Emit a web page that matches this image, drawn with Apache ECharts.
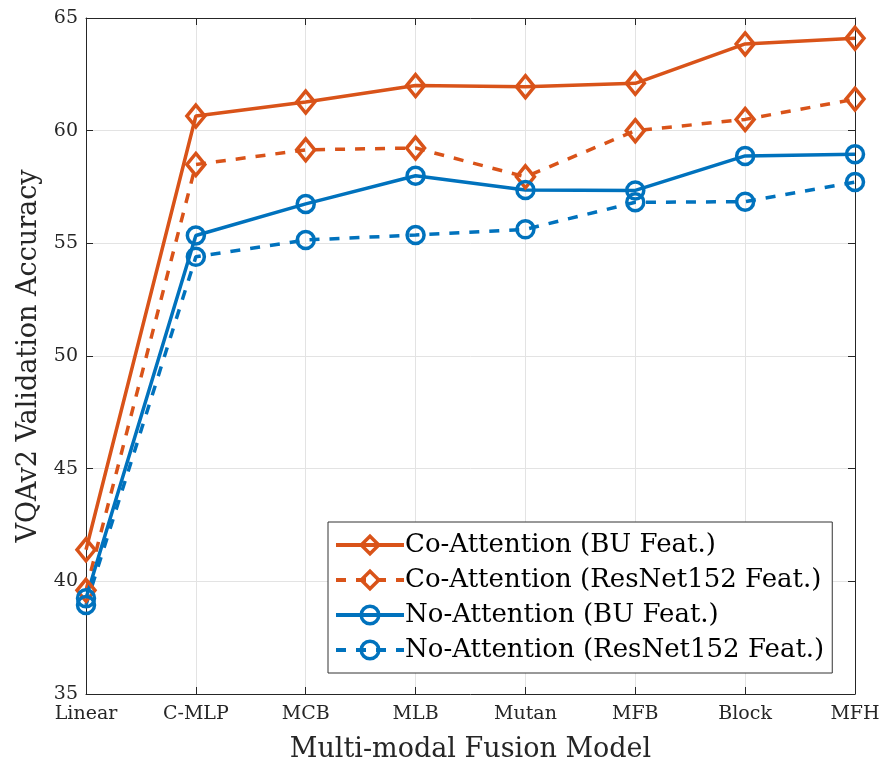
<!DOCTYPE html>
<html>
<head>
<meta charset="utf-8">
<script src="https://cdn.jsdelivr.net/npm/echarts@6/dist/echarts.min.js"></script>
<style>
  html, body { margin: 0; padding: 0; background: #fff; }
  #chart { width: 883px; height: 762px; }
</style>
</head>
<body>
<div id="chart"></div>
<script>
var models = ["Linear", "C-MLP", "MCB", "MLB", "Mutan", "MFB", "Block", "MFH"];
var coAttBU = [41.4, 60.65, 61.27, 62.0, 61.95, 62.1, 63.85, 64.1];
var coAttRes = [39.6, 58.5, 59.15, 59.23, 57.95, 60.0, 60.5, 61.4];
var noAttBU = [39.25, 55.35, 56.75, 58.0, 57.37, 57.35, 58.88, 58.95];
var noAttRes = [38.95, 54.4, 55.15, 55.37, 55.62, 56.82, 56.85, 57.72];
var yTicks = [35, 40, 45, 50, 55, 60, 65];

var orange = "#D95319";
var blue = "#0072BD";
var font = "DejaVu Serif";

function mkSeries(name, data, color, symbol, dashed) {
  return {
    name: name,
    type: "line",
    data: data,
    symbol: symbol,
    symbolSize: symbol === "diamond" ? [18, 22] : 17,
    showAllSymbol: true,
    lineStyle: { color: color, width: 3.5, type: dashed ? [10, 10] : "solid" },
    itemStyle: { color: "transparent", borderColor: color, borderWidth: 3.5 },
    emphasis: { disabled: true }
  };
}

var chart = echarts.init(document.getElementById("chart"));
chart.setOption({
  animation: false,
  textStyle: { fontFamily: font },
  grid: { left: 86, right: 28, top: 18, bottom: 68, containLabel: false, outerBoundsMode: "none" },
  legend: {
    orient: "vertical",
    left: 328,
    top: 522,
    width: 502,
    itemWidth: 68,
    itemHeight: 22,
    itemGap: 9,
    padding: [10, 8, 10, 6],
    backgroundColor: "#fff",
    borderColor: "#333",
    borderWidth: 1,
    borderRadius: 0,
    lineStyle: { width: 4 },
    itemStyle: { borderWidth: 3.5 },
    textStyle: { fontFamily: font, fontSize: 26, color: "#000", padding: [0, 0, 0, -4] },
    data: [
      "Co-Attention (BU Feat.)",
      "Co-Attention (ResNet152 Feat.)",
      "No-Attention (BU Feat.)",
      "No-Attention (ResNet152 Feat.)"
    ]
  },
  xAxis: [
    {
      type: "category",
      data: models,
      boundaryGap: false,
      name: "Multi-modal Fusion Model",
      nameLocation: "middle",
      nameGap: 42,
      nameTextStyle: { fontFamily: font, fontSize: 27, color: "#262626" },
      axisLine: { lineStyle: { color: "#262626", width: 1 } },
      axisTick: { inside: true, length: 7, lineStyle: { color: "#262626" } },
      axisLabel: { fontFamily: font, fontSize: 19, color: "#262626", margin: 11 },
      splitLine: { show: true, lineStyle: { color: "#e3e3e3", width: 1 } }
    },
    {
      type: "category",
      data: models,
      boundaryGap: false,
      position: "top",
      axisLine: { lineStyle: { color: "#262626", width: 1 } },
      axisTick: { inside: true, length: 7, lineStyle: { color: "#262626" } },
      axisLabel: { show: false },
      splitLine: { show: false }
    }
  ],
  yAxis: [
    {
      type: "value",
      min: 35,
      max: 65,
      interval: 5,
      name: "VQAv2 Validation Accuracy",
      nameLocation: "middle",
      nameGap: 44,
      nameTextStyle: { fontFamily: font, fontSize: 27, color: "#262626" },
      axisLine: { show: true, lineStyle: { color: "#262626", width: 1 } },
      axisTick: { show: true, inside: true, length: 7, lineStyle: { color: "#262626" } },
      axisLabel: {
        fontFamily: font, fontSize: 19, color: "#262626", margin: 8,
        formatter: function (v) { return yTicks.indexOf(v) >= 0 ? String(v) : ""; }
      },
      splitLine: { show: true, lineStyle: { color: "#e3e3e3", width: 1 } }
    },
    {
      type: "value",
      min: 35,
      max: 65,
      interval: 5,
      position: "right",
      axisLine: { show: true, lineStyle: { color: "#262626", width: 1 } },
      axisTick: { show: true, inside: true, length: 7, lineStyle: { color: "#262626" } },
      axisLabel: { show: false },
      splitLine: { show: false }
    }
  ],
  series: [
    mkSeries("Co-Attention (BU Feat.)", coAttBU, orange, "diamond", false),
    mkSeries("Co-Attention (ResNet152 Feat.)", coAttRes, orange, "diamond", true),
    mkSeries("No-Attention (BU Feat.)", noAttBU, blue, "circle", false),
    mkSeries("No-Attention (ResNet152 Feat.)", noAttRes, blue, "circle", true)
  ]
});
</script>
</body>
</html>
